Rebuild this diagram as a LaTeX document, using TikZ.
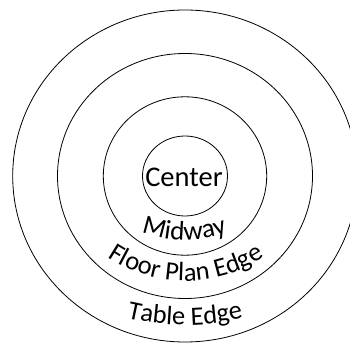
\documentclass[tikz,border=0pt]{standalone}
\usepackage{fontspec}
\setmainfont{Carlito}
\usetikzlibrary{decorations.text}
\begin{document}
\begin{tikzpicture}[x=1pt,y=1pt,
  ring/.style={draw=black,line width=0.8pt}]
\useasboundingbox (0,0) rectangle (350,342);
\clip (0,0) rectangle (350,342);
\coordinate (O) at (185,166);
\draw[ring] (O) ellipse [x radius=42.5, y radius=40];
\draw[ring] (O) ellipse [x radius=81.7, y radius=79.2];
\draw[ring] (O) ellipse [x radius=127.5, y radius=122.5];
\draw[ring] (O) ellipse [x radius=172.3, y radius=166];
\node[anchor=base, inner sep=0pt, font=\fontsize{28.5}{28.5}\selectfont] (center) at (184,155.5) {Center};
\path[decorate, decoration={text along path, text align=center,
  text={|\fontsize{27}{27}\selectfont|Midway}}]
  (184.5,227) ++(230:125) arc[start angle=230, end angle=310, radius=125];
\path[decorate, decoration={text along path, text align=center,
  text={|\fontsize{26.5}{26.5}\selectfont|Floor Plan Edge}}]
  (186,201) ++(215:140) arc[start angle=215, end angle=325, radius=140];
\path[decorate, decoration={text along path, text align=center,
  text={|\fontsize{26.5}{26.5}\selectfont|Table Edge}}]
  (185,267) ++(250:250) arc[start angle=250, end angle=290, radius=250];
\end{tikzpicture}
\end{document}
